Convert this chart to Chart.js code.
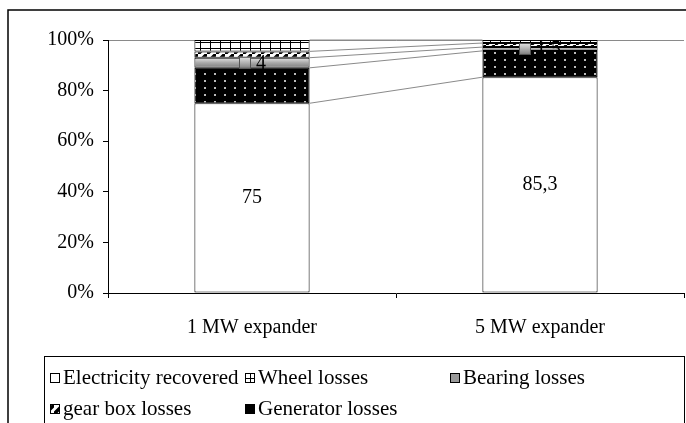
<!DOCTYPE html>
<html>
<head>
<meta charset="utf-8">
<script src="https://cdn.jsdelivr.net/npm/chart.js@4"></script>
<style>
  body { margin: 0; background: #fff; }
  canvas { display: block; }
</style>
</head>
<body>
<canvas id="expander_losses" width="686" height="423"></canvas>
<script>
// values, percent of input energy
const categories = ['1 MW expander', '5 MW expander'];
const electricityRecovered = [75, 85.3];
const generatorLosses = [14, 10.4];
const bearingLosses = [4, 1.5];
const gearBoxLosses = [2.5, 1.6];
const wheelLosses = [4.5, 1.2];
const yTickValues = [0, 20, 40, 60, 80, 100];

const FONT = 'Liberation Serif';

function makePattern(w, h, paint) {
    const c = document.createElement('canvas');
    c.width = w;
    c.height = h;
    paint(c.getContext('2d'));
    return c.getContext('2d').createPattern(c, 'repeat');
}

const dottedBlack = makePattern(10, 7, function (g) {
    g.fillStyle = '#000';
    g.fillRect(0, 0, 10, 7);
    g.fillStyle = '#bbb';
    g.fillRect(4, 3, 2, 2);
});

const gridWhite = makePattern(10, 6, function (g) {
    g.fillStyle = '#fff';
    g.fillRect(0, 0, 10, 6);
    g.fillStyle = '#000';
    g.fillRect(0, 0, 1, 6);
    g.fillRect(0, 0, 10, 1);
});

const stripes = makePattern(9, 9, function (g) {
    g.fillStyle = '#fff';
    g.fillRect(0, 0, 9, 9);
    g.strokeStyle = '#000';
    g.lineWidth = 3.5;
    g.beginPath();
    g.moveTo(-3, 12); g.lineTo(12, -3);
    g.moveTo(-12, 9); g.lineTo(6, -9);
    g.moveTo(3, 18); g.lineTo(18, 3);
    g.stroke();
});

function bearingGradient(c) {
    const chart = c.chart;
    if (!chart.chartArea || c.dataIndex === undefined) return '#aaa';
    const y = chart.scales.y;
    const i = c.dataIndex;
    const below = electricityRecovered[i] + generatorLosses[i];
    const top = below + bearingLosses[i];
    const g = chart.ctx.createLinearGradient(0, y.getPixelForValue(top), 0, y.getPixelForValue(below));
    g.addColorStop(0, '#e6e6e6');
    g.addColorStop(0.5, '#a8a8a8');
    g.addColorStop(1, '#7c7c7c');
    return g;
}

function fmt(v) {
    return String(v).replace('.', ',');
}

// excel style frame, series lines, labels and boxed legend
const decorations = {
    id: 'decorations',
    beforeDraw(chart) {
        const ctx = chart.ctx;
        ctx.save();
        ctx.fillStyle = '#fff';
        ctx.fillRect(0, 0, chart.width, chart.height);
        ctx.strokeStyle = '#000';
        ctx.lineWidth = 1.5;
        ctx.strokeRect(8, 10, chart.width + 10, chart.height + 10);
        ctx.restore();
    },
    beforeDatasetsDraw(chart) {
        const ctx = chart.ctx;
        ctx.save();
        ctx.strokeStyle = '#8a8a8a';
        ctx.lineWidth = 1;
        chart.data.datasets.forEach(function (ds, d) {
            const bars = chart.getDatasetMeta(d).data;
            const a = bars[0], b = bars[1];
            ctx.beginPath();
            ctx.moveTo(a.x + a.width / 2, a.y);
            ctx.lineTo(b.x - b.width / 2, b.y);
            ctx.stroke();
        });
        ctx.restore();
    },
    afterDatasetsDraw(chart) {
        const ctx = chart.ctx;
        ctx.save();
        ctx.font = '20px "' + FONT + '"';
        ctx.fillStyle = '#000';
        ctx.textBaseline = 'middle';
        ctx.textAlign = 'center';
        chart.getDatasetMeta(0).data.forEach(function (bar, i) {
            const p = bar.getCenterPoint();
            ctx.fillText(fmt(electricityRecovered[i]), p.x, p.y);
        });
        ctx.textAlign = 'left';
        chart.getDatasetMeta(2).data.forEach(function (bar, i) {
            const p = bar.getCenterPoint();
            const txt = fmt(bearingLosses[i]);
            const w = ctx.measureText(txt).width;
            const sq = 11, gap = 6;
            const x0 = Math.round(p.x - (sq + gap + w) / 2);
            const g = ctx.createLinearGradient(0, p.y - 6, 0, p.y + 6);
            g.addColorStop(0, '#e6e6e6');
            g.addColorStop(1, '#7c7c7c');
            ctx.fillStyle = g;
            ctx.fillRect(x0, p.y - 6, sq, 12);
            ctx.strokeStyle = '#555';
            ctx.lineWidth = 1;
            ctx.strokeRect(x0 + 0.5, p.y - 5.5, sq, 11);
            ctx.fillStyle = '#000';
            ctx.fillText(txt, x0 + sq + gap, p.y + 1);
        });
        ctx.restore();
    },
    afterDraw(chart) {
        const ctx = chart.ctx;
        const ds = chart.data.datasets;
        const boxLeft = 44, boxTop = 356;
        ctx.save();
        ctx.strokeStyle = '#000';
        ctx.lineWidth = 1;
        ctx.strokeRect(boxLeft + 0.5, boxTop + 0.5, 684 - boxLeft, 100);
        // legend order as in the original workbook
        const order = [0, 4, 2, 3, 1];
        const cols = [50, 245, 450];
        const rows = [377, 408];
        ctx.font = '21px "' + FONT + '"';
        ctx.textBaseline = 'middle';
        ctx.textAlign = 'left';
        order.forEach(function (d, k) {
            const x = cols[k % 3];
            const y = rows[Math.floor(k / 3)];
            ctx.fillStyle = ds[d].legendFill;
            ctx.fillRect(x, y - 4, 9, 9);
            ctx.strokeStyle = '#000';
            ctx.strokeRect(x + 0.5, y - 3.5, 9, 9);
            ctx.fillStyle = '#000';
            ctx.fillText(ds[d].label, x + 13, y + 1);
        });
        ctx.restore();
    }
};

const ctx = document.getElementById('expander_losses');

new Chart(ctx, {
    type: 'bar',
    data: {
        labels: categories,
        datasets: [
            { label: 'Electricity recovered', data: electricityRecovered, backgroundColor: '#fff', legendFill: '#fff' },
            { label: 'Generator losses', data: generatorLosses, backgroundColor: dottedBlack, legendFill: dottedBlack },
            { label: 'Bearing losses', data: bearingLosses, backgroundColor: bearingGradient, legendFill: '#999' },
            { label: 'gear box losses', data: gearBoxLosses, backgroundColor: stripes, legendFill: stripes },
            { label: 'Wheel losses', data: wheelLosses, backgroundColor: gridWhite, legendFill: gridWhite }
        ].map(function (d) {
            return Object.assign(d, {
                borderColor: '#000',
                borderWidth: 1,
                borderSkipped: false,
                categoryPercentage: 1,
                barPercentage: 0.4
            });
        })
    },
    options: {
        responsive: false,
        animation: false,
        layout: { padding: { left: 0, top: 40, right: 2, bottom: 80 } },
        plugins: {
            legend: { display: false },
            tooltip: { enabled: false }
        },
        scales: {
            x: {
                stacked: true,
                border: { color: '#000', width: 1 },
                grid: { drawOnChartArea: false, tickColor: '#000', tickLength: 5, offset: true },
                ticks: { color: '#000', padding: 18, font: { family: FONT, size: 20 } },
                afterFit(s) { s.height = 50; }
            },
            y: {
                stacked: true,
                min: 0,
                max: 100,
                border: { color: '#000', width: 1 },
                grid: {
                    drawOnChartArea: true,
                    tickColor: '#000',
                    tickLength: 5,
                    color: function (c) { return c.tick && c.tick.value === 100 ? '#8a8a8a' : 'rgba(0,0,0,0)'; }
                },
                afterBuildTicks(s) { s.ticks = yTickValues.map(function (v) { return { value: v }; }); },
                ticks: {
                    color: '#000',
                    padding: 9,
                    font: { family: FONT, size: 20 },
                    callback: function (v) { return v + '%'; }
                },
                afterFit(s) { s.width = 108; }
            }
        }
    },
    plugins: [decorations]
});
</script>
</body>
</html>
